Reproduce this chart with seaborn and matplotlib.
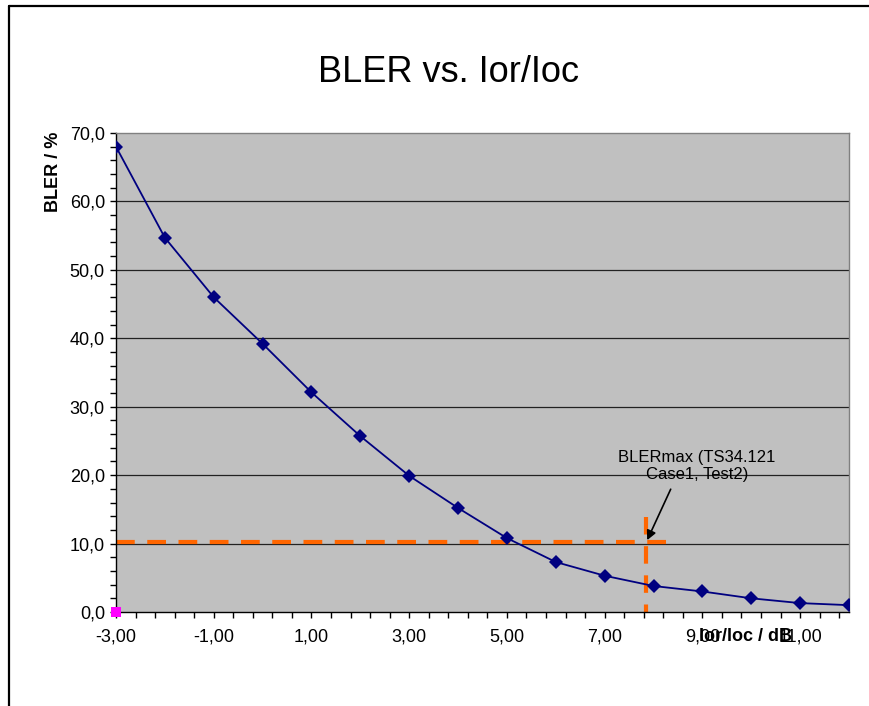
import numpy as np
import pandas as pd
import seaborn as sns
import matplotlib
matplotlib.use("Agg")
import matplotlib.pyplot as plt
from matplotlib.lines import Line2D
from matplotlib.ticker import MultipleLocator, FixedLocator

# values
ior_ioc = [-3, -2, -1, 0, 1, 2, 3, 4, 5, 6, 7, 8, 9, 10, 11, 12]
bler = [68.0, 54.7, 46.0, 39.2, 32.1, 25.7, 19.9, 15.2, 10.8, 7.3, 5.3, 3.8, 3.0, 2.0, 1.3, 1.0]

marker_x = [-3]
marker_y = [0.0]

# BLERmax limit lines
limit_h_x = [-3, 8.25]
limit_h_y = [10.3, 10.3]
limit_v_x = [7.85, 7.85]
limit_v_y = [13.9, 0]

xtick_pos = [-3, -1, 1, 3, 5, 7, 9, 11]
xtick_labels = ["-3,00", "-1,00", "1,00", "3,00", "5,00", "7,00", "9,00", "11,00"]
ytick_pos = [0, 10, 20, 30, 40, 50, 60, 70]
ytick_labels = ["0,0", "10,0", "20,0", "30,0", "40,0", "50,0", "60,0", "70,0"]

df = pd.DataFrame({"x": ior_ioc, "bler": bler})

sns.set_theme(style="ticks")
plt.rcParams["font.family"] = ["Liberation Sans", "DejaVu Sans"]
plt.rcParams["text.color"] = "black"
plt.rcParams["axes.labelcolor"] = "black"

fig = plt.figure(figsize=(8.7, 7.06), dpi=100)
ax = fig.add_axes([116 / 870, 1 - 612 / 706, (849 - 116) / 870, (612 - 133) / 706])
ax.set_facecolor("#C0C0C0")

for yv in [10, 20, 30, 40, 50, 60]:
    ax.axhline(yv, color="#222222", lw=0.9, zorder=1)

ax.plot(limit_h_x, limit_h_y, color="#FF6600", lw=3, dashes=(4.5, 3), zorder=2)
ax.plot(limit_v_x, limit_v_y, color="#FF6600", lw=3, dashes=(4.2, 2.8), zorder=2, clip_on=False)

sns.lineplot(data=df, x="x", y="bler", ax=ax, color="#000080", lw=1.3,
             marker="D", markersize=7.5, markeredgewidth=0, zorder=3)
sns.scatterplot(x=marker_x, y=marker_y, ax=ax, marker="s", color="#FF00FF", s=60,
                linewidth=0, zorder=5, clip_on=False)

ax.set_xlim(-3, 12)
ax.set_ylim(0, 70)
ax.xaxis.set_major_locator(FixedLocator(xtick_pos))
ax.set_xticklabels(xtick_labels)
ax.xaxis.set_minor_locator(FixedLocator(np.arange(-3, 12.01, 0.4)))
ax.yaxis.set_major_locator(FixedLocator(ytick_pos))
ax.set_yticklabels(ytick_labels)
ax.yaxis.set_minor_locator(MultipleLocator(2))
ax.tick_params(which="both", direction="out", length=4, width=1, color="black",
               labelsize=13, labelcolor="black")
ax.tick_params(axis="x", which="major", pad=8)
ax.tick_params(axis="y", which="major", pad=4)

for side in ["left", "bottom"]:
    ax.spines[side].set_color("black")
    ax.spines[side].set_linewidth(1)
for side in ["top", "right"]:
    ax.spines[side].set_visible(True)
    ax.spines[side].set_color("#808080")
    ax.spines[side].set_linewidth(1)

# the x label sits on top of the last tick labels, as in the original chart
ax.set_xlabel("Ior/loc / dB", fontsize=13, fontweight="bold", va="center")
ax.xaxis.set_label_coords(0.859, -0.052)
ax.set_ylabel("BLER / %", fontsize=13, fontweight="bold", va="center")
ax.yaxis.set_label_coords(-0.085, 0.918)

ax.annotate("BLERmax (TS34.121\nCase1, Test2)", xy=(7.87, 10.5), xytext=(8.89, 21.3),
            ha="center", va="center", multialignment="center", fontsize=12,
            linespacing=1.15, color="black",
            arrowprops=dict(arrowstyle="-|>", color="black", lw=1.2, mutation_scale=14,
                            shrinkA=3, shrinkB=0, relpos=(0.4, 0.5)),
            zorder=6)

fig.text(0.515, 0.898, "BLER vs. Ior/Ioc", ha="center", va="center", fontsize=26, color="black")

# outer chart frame (top and left edges visible)
fig.add_artist(Line2D([9 / 870, 1], [1 - 6 / 706] * 2, color="black", lw=1.6))
fig.add_artist(Line2D([9 / 870] * 2, [0, 1 - 6 / 706], color="black", lw=1.6))

fig.savefig("out.png", dpi=100)
